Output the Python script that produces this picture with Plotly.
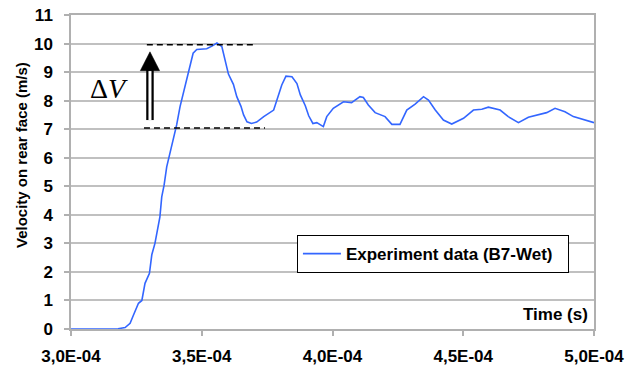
import plotly.graph_objects as go

# Time in units of 1e-4 s, velocity in m/s
time_e4 = [3.000, 3.100, 3.180, 3.207, 3.226, 3.239, 3.258, 3.271, 3.283, 3.300,
           3.309, 3.321, 3.330, 3.340, 3.347, 3.356, 3.366, 3.375, 3.385, 3.398,
           3.404, 3.417, 3.429, 3.442, 3.455, 3.467, 3.481, 3.519, 3.539, 3.558,
           3.577, 3.590, 3.602, 3.621, 3.634, 3.650, 3.660, 3.673, 3.690, 3.710,
           3.737, 3.775, 3.790, 3.806, 3.822, 3.845, 3.864, 3.877, 3.896, 3.909,
           3.925, 3.940, 3.965, 3.978, 4.003, 4.042, 4.073, 4.105, 4.118, 4.137,
           4.163, 4.201, 4.227, 4.258, 4.284, 4.316, 4.348, 4.367, 4.393, 4.424,
           4.456, 4.501, 4.539, 4.571, 4.596, 4.641, 4.672, 4.711, 4.749, 4.781,
           4.819, 4.851, 4.889, 4.921, 4.959, 5.000]
velocity = [0.00, 0.00, 0.01, 0.05, 0.20, 0.49, 0.90, 1.00, 1.60, 1.95,
            2.60, 3.00, 3.47, 3.93, 4.63, 5.04, 5.68, 6.04, 6.50, 6.97,
            7.15, 7.79, 8.26, 8.72, 9.30, 9.66, 9.79, 9.82, 9.91, 10.02,
            9.89, 9.42, 8.93, 8.57, 8.14, 7.80, 7.50, 7.26, 7.20, 7.25,
            7.44, 7.67, 8.14, 8.55, 8.86, 8.84, 8.60, 8.20, 7.82, 7.47,
            7.20, 7.23, 7.09, 7.44, 7.73, 7.96, 7.93, 8.14, 8.11, 7.85,
            7.58, 7.44, 7.17, 7.17, 7.67, 7.88, 8.14, 8.02, 7.67, 7.32,
            7.18, 7.38, 7.67, 7.70, 7.77, 7.67, 7.44, 7.23, 7.42, 7.50,
            7.58, 7.73, 7.61, 7.44, 7.34, 7.23]
time_s = [t * 1e-4 for t in time_e4]

x_tickvals = [3.0e-4, 3.5e-4, 4.0e-4, 4.5e-4, 5.0e-4]
x_ticktext = ["3,0E-04", "3,5E-04", "4,0E-04", "4,5E-04", "5,0E-04"]
y_tickvals = list(range(0, 12))
y_ticktext = [str(v) for v in y_tickvals]

series_name = "Experiment data (B7-Wet)"
y_title = "Velocity on rear face (m/s)"
x_title = "Time (s)"

# Delta-V annotation levels
dv_top = 9.96
dv_bottom = 7.04
dv_top_x = [3.29e-4, 3.704e-4]
dv_bottom_x = [3.279e-4, 3.742e-4]
arrow_x = 3.302e-4
arrow_y0, arrow_head_base, arrow_tip = 7.32, 9.05, 9.71
arrow_half_w = 0.037e-4

FONT = "Liberation Sans, Arial, sans-serif"
GRID = "#c0c0c0"
AXIS = "#b0b0b0"


def bold(s):
    return f"<b>{s}</b>"


fig = go.Figure()
fig.add_trace(go.Scatter(x=time_s, y=velocity, mode="lines",
                         name=bold(series_name) + "\u00a0\u00a0",
                         line=dict(color="#3366ff", width=1.6)))

shapes = [
    dict(type="line", xref="x", yref="y", x0=dv_top_x[0], x1=dv_top_x[1], y0=dv_top, y1=dv_top,
         line=dict(color="black", width=1.5, dash="6px,4px")),
    dict(type="line", xref="x", yref="y", x0=dv_bottom_x[0], x1=dv_bottom_x[1], y0=dv_bottom, y1=dv_bottom,
         line=dict(color="black", width=1.5, dash="6px,4px")),
    dict(type="line", xref="x", yref="y", x0=arrow_x, x1=arrow_x, y0=arrow_y0, y1=arrow_head_base + 0.05,
         line=dict(color="black", width=7.5)),
    dict(type="line", xref="x", yref="y", x0=arrow_x, x1=arrow_x, y0=arrow_y0, y1=arrow_head_base,
         line=dict(color="white", width=3)),
    dict(type="path", xref="x", yref="y",
         path=f"M {arrow_x - arrow_half_w},{arrow_head_base} L {arrow_x + arrow_half_w},{arrow_head_base} L {arrow_x},{arrow_tip} Z",
         fillcolor="black", line=dict(color="black", width=0.5)),
]

annotations = [
    dict(text="Δ<i>V</i>", xref="x", yref="y", x=3.145e-4, y=8.44, showarrow=False,
         font=dict(family="Liberation Serif, Times New Roman, serif", size=28, color="black")),
    dict(text=bold(x_title), xref="paper", yref="paper", x=0.9924, y=0.0446, xanchor="right", yanchor="middle",
         showarrow=False, font=dict(family=FONT, size=17, color="black")),
    dict(text=bold(y_title), xref="paper", yref="paper", x=-0.0956, y=0.554, xanchor="center", yanchor="middle",
         textangle=-90, showarrow=False, font=dict(family=FONT, size=15, color="black")),
]

fig.update_layout(
    width=626, height=366,
    margin=dict(l=71, r=32, t=15, b=37, autoexpand=False),
    paper_bgcolor="white", plot_bgcolor="white",
    shapes=shapes, annotations=annotations,
    showlegend=True,
    legend=dict(x=0.432, y=0.299, xanchor="left", yanchor="top",
                bordercolor="black", borderwidth=1, bgcolor="white",
                itemwidth=38,
                font=dict(family=FONT, size=17, color="black")),
    xaxis=dict(range=[3.0e-4, 5.0e-4], tickvals=x_tickvals, ticktext=[bold(t) for t in x_ticktext],
               automargin=False,
               showgrid=False, zeroline=False, showline=True, linecolor=AXIS, linewidth=1.5,
               mirror=True, ticks="outside", ticklen=5, tickcolor=AXIS, tickwidth=1.5,
               ticklabelstandoff=6,
               tickfont=dict(family=FONT, size=17, color="black")),
    yaxis=dict(range=[0, 11], tickvals=y_tickvals, ticktext=[bold(t) for t in y_ticktext],
               automargin=False,
               showgrid=True, gridcolor=GRID, gridwidth=1.5, zeroline=False,
               showline=True, linecolor=AXIS, linewidth=1.5, mirror=True,
               ticks="outside", ticklen=5, tickcolor=AXIS, tickwidth=1.5,
               ticklabelstandoff=8,
               tickfont=dict(family=FONT, size=17, color="black")),
)

fig.write_html("out.html", config={"displayModeBar": False},
               post_script="document.body.style.margin='0';")
